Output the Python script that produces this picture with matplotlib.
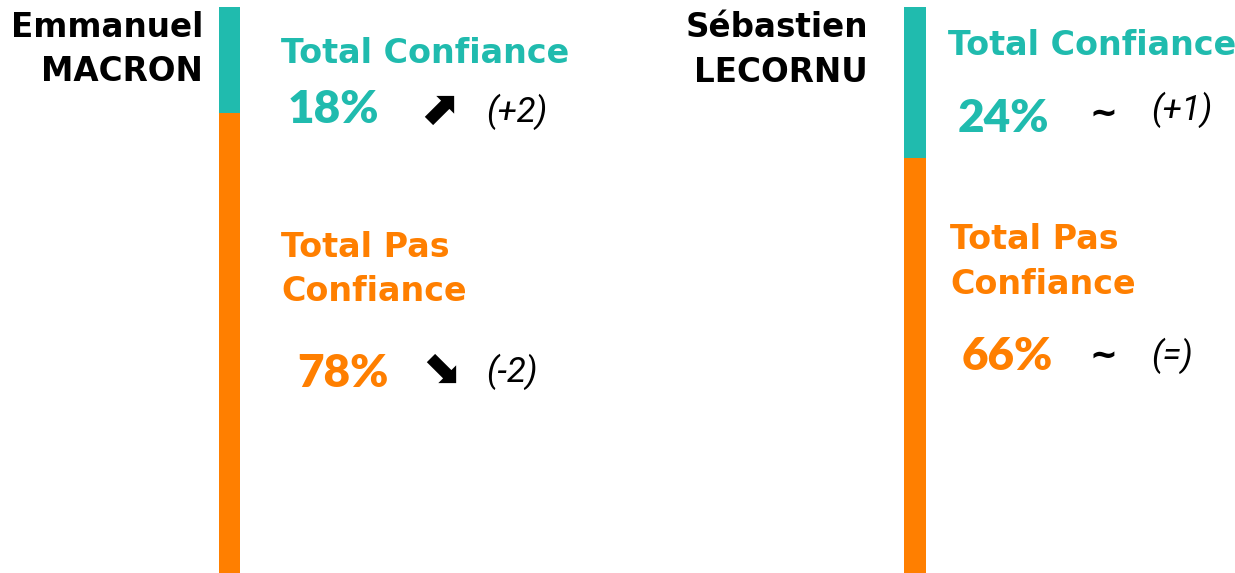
import matplotlib
matplotlib.use("Agg")
import matplotlib.pyplot as plt

W, H = 1235, 573
TEAL = "#20BBAE"
ORANGE = "#FF7F00"

# Data
people = ["Emmanuel\nMACRON", "Sébastien\nLECORNU"]
confiance = [18, 24]
pas_confiance = [78, 66]
conf_change = ["(+2)", "(+1)"]
pas_change = ["(-2)", "(=)"]
conf_trend = ["⬈", "~"]
pas_trend = ["⬊", "~"]

fig = plt.figure(figsize=(W / 100, H / 100), dpi=100)
fig.patch.set_facecolor("white")

def fx(x):
    return x / W

def fy(y):
    return 1 - y / H

HEAD = dict(family=["DejaVu Sans"], weight="bold")
PCT = dict(family=["Lato", "DejaVu Sans"], weight="heavy")
ITAL = dict(family=["Roboto", "DejaVu Sans"], style="italic", weight="normal")

# bar geometry (pixels): left, width
bars = [(219, 21), (904, 22)]
for i, (bx, bw) in enumerate(bars):
    ax = fig.add_axes([fx(bx), 0, bw / W, (H - 7) / H])
    total = confiance[i] + pas_confiance[i]
    ax.bar([0], [confiance[i]], width=1, bottom=0, color=TEAL)
    ax.bar([0], [pas_confiance[i]], width=1, bottom=confiance[i], color=ORANGE)
    ax.set_xlim(-0.5, 0.5)
    ax.set_ylim(total, 0)
    ax.axis("off")

# layout per panel (pixel coords)
layout = [
    dict(name_x=203, name_y=(37, 81), tc=(281, 63), pct1=(288, 123), ar1=(438, 124),
         ch1=(486, 122), tp=(281, 257, 301), pct2=(297, 387), ar2=(440, 382), ch2=(486, 382)),
    dict(name_x=868, name_y=(37, 82), tc=(948, 55), pct1=(958, 132), ar1=(1103, 124),
         ch1=(1151, 120), tp=(950, 249, 294), pct2=(962, 370), ar2=(1103, 366), ch2=(1151, 366)),
]

def trend_style(sym):
    if sym == "~":
        return dict(fontsize=24, family=["DejaVu Sans"], weight="bold")
    return dict(fontsize=34, family=["DejaVu Sans"], weight="bold")

for i, L in enumerate(layout):
    first, last = people[i].split("\n")
    fig.text(fx(L["name_x"]), fy(L["name_y"][0]), first, ha="right", va="baseline",
             fontsize=23.5, color="black", **HEAD)
    fig.text(fx(L["name_x"]), fy(L["name_y"][1]), last, ha="right", va="baseline",
             fontsize=23.5, color="black", **HEAD)
    fig.text(fx(L["tc"][0]), fy(L["tc"][1]), "Total Confiance", ha="left", va="baseline",
             fontsize=24, color=TEAL, **HEAD)
    fig.text(fx(L["pct1"][0]), fy(L["pct1"][1]), f"{confiance[i]}%", ha="left", va="baseline",
             fontsize=33, color=TEAL, **PCT)
    fig.text(fx(L["ar1"][0]), fy(L["ar1"][1]), conf_trend[i], ha="center", va="baseline",
             color="black", **trend_style(conf_trend[i]))
    fig.text(fx(L["ch1"][0]), fy(L["ch1"][1]), conf_change[i], ha="left", va="baseline",
             fontsize=25, color="black", **ITAL)
    fig.text(fx(L["tp"][0]), fy(L["tp"][1]), "Total Pas", ha="left", va="baseline",
             fontsize=24, color=ORANGE, **HEAD)
    fig.text(fx(L["tp"][0]), fy(L["tp"][2]), "Confiance", ha="left", va="baseline",
             fontsize=24, color=ORANGE, **HEAD)
    fig.text(fx(L["pct2"][0]), fy(L["pct2"][1]), f"{pas_confiance[i]}%", ha="left", va="baseline",
             fontsize=33, color=ORANGE, **PCT)
    fig.text(fx(L["ar2"][0]), fy(L["ar2"][1]), pas_trend[i], ha="center", va="baseline",
             color="black", **trend_style(pas_trend[i]))
    fig.text(fx(L["ch2"][0]), fy(L["ch2"][1]), pas_change[i], ha="left", va="baseline",
             fontsize=25, color="black", **ITAL)

fig.savefig("out.png", dpi=100)
